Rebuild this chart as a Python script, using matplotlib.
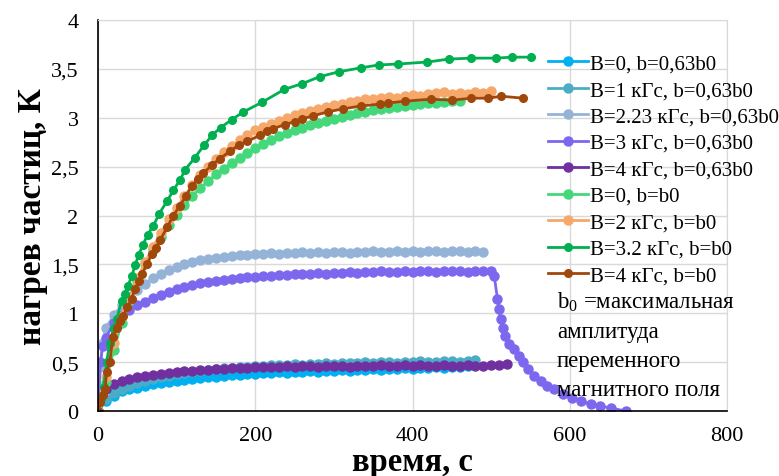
import numpy as np
import matplotlib
matplotlib.use('Agg')
import matplotlib.pyplot as plt

plt.rcParams['font.family'] = ['Liberation Serif', 'DejaVu Serif']
plt.rcParams['mathtext.fontset'] = 'custom'
plt.rcParams['mathtext.rm'] = 'Liberation Serif'

# b = 0,63 b0 series (time in s, heating in K)
t_b0_063 = np.arange(0, 471, 10)
v_b0_063 = [0, 0.10, 0.15, 0.20, 0.22, 0.24, 0.26, 0.28, 0.29, 0.30,
            0.31, 0.32, 0.33, 0.34, 0.35, 0.35, 0.36, 0.37, 0.37, 0.38,
            0.38, 0.39, 0.39, 0.40, 0.39, 0.40, 0.40, 0.41, 0.40, 0.41,
            0.41, 0.42, 0.41, 0.42, 0.42, 0.43, 0.42, 0.43, 0.43, 0.44,
            0.43, 0.44, 0.44, 0.45, 0.44, 0.45, 0.45, 0.46]

t_b1_063 = np.arange(0, 481, 10)
v_b1_063 = [0, 0.12, 0.18, 0.23, 0.26, 0.29, 0.31, 0.33, 0.35, 0.36,
            0.38, 0.39, 0.40, 0.41, 0.42, 0.43, 0.44, 0.44, 0.45, 0.45,
            0.46, 0.46, 0.47, 0.47, 0.47, 0.48, 0.47, 0.48, 0.48, 0.49,
            0.48, 0.49, 0.49, 0.49, 0.50, 0.49, 0.50, 0.50, 0.49, 0.50,
            0.50, 0.51, 0.50, 0.50, 0.51, 0.51, 0.50, 0.51, 0.52]

t_b223_063 = np.concatenate([[0, 3, 6], np.arange(10, 491, 10)])
v_b223_063 = [0, 0.45, 0.70, 0.85, 0.98, 1.08, 1.17, 1.24, 1.30, 1.36, 1.40,
              1.44, 1.47, 1.50, 1.52, 1.54, 1.56, 1.57, 1.58, 1.59, 1.60,
              1.60, 1.61, 1.61, 1.62, 1.61, 1.62, 1.62, 1.63, 1.62, 1.63,
              1.62, 1.63, 1.63, 1.62, 1.63, 1.63, 1.64, 1.63, 1.63, 1.64,
              1.63, 1.64, 1.63, 1.64, 1.64, 1.63, 1.64, 1.64, 1.63, 1.64,
              1.63]

t_b3_063 = np.concatenate([[0, 3, 6], np.arange(10, 501, 10),
                           [504, 508, 510, 512, 515, 518, 523, 529, 535, 541,
                            547, 554, 563, 571, 580, 592, 603, 614, 627, 639,
                            652, 671]])
v_b3_063 = [0, 0.50, 0.66, 0.75, 0.90, 0.98, 1.03, 1.08, 1.12, 1.16, 1.19,
            1.22, 1.25, 1.27, 1.29, 1.31, 1.32, 1.33, 1.34, 1.35, 1.36,
            1.37, 1.37, 1.38, 1.38, 1.39, 1.39, 1.40, 1.40, 1.40, 1.41,
            1.40, 1.41, 1.41, 1.42, 1.41, 1.42, 1.42, 1.43, 1.42, 1.42,
            1.43, 1.42, 1.43, 1.43, 1.42, 1.43, 1.43, 1.43, 1.42, 1.43,
            1.43, 1.43,
            1.38, 1.15, 1.04, 0.94, 0.85, 0.77, 0.69, 0.63, 0.56, 0.50,
            0.43, 0.36, 0.31, 0.26, 0.22, 0.17, 0.13, 0.10, 0.07, 0.05,
            0.03, 0.0]

t_b4_063 = np.arange(0, 521, 10)
v_b4_063 = [0, 0.22, 0.28, 0.31, 0.33, 0.35, 0.36, 0.37, 0.38, 0.39,
            0.40, 0.41, 0.41, 0.42, 0.42, 0.43, 0.43, 0.44, 0.44, 0.44,
            0.45, 0.45, 0.45, 0.45, 0.46, 0.45, 0.46, 0.46, 0.45, 0.46,
            0.46, 0.46, 0.45, 0.46, 0.46, 0.46, 0.47, 0.46, 0.46, 0.47,
            0.46, 0.47, 0.46, 0.46, 0.47, 0.46, 0.46, 0.47, 0.46, 0.46,
            0.47, 0.47, 0.48]

# b = b0 series
t_b0_1 = np.arange(0, 461, 10)
v_b0_1 = [0, 0.30, 0.62, 0.90, 1.13, 1.33, 1.50, 1.65, 1.78, 1.90,
          2.01, 2.11, 2.20, 2.28, 2.35, 2.42, 2.48, 2.54, 2.59, 2.64,
          2.69, 2.73, 2.77, 2.81, 2.84, 2.87, 2.90, 2.93, 2.95, 2.97,
          2.99, 3.01, 3.03, 3.05, 3.06, 3.08, 3.09, 3.10, 3.11, 3.12,
          3.13, 3.14, 3.15, 3.15, 3.16, 3.17, 3.17]

t_b2_1 = np.arange(0, 501, 10)
v_b2_1 = [0, 0.35, 0.70, 0.97, 1.17, 1.36, 1.52, 1.68, 1.82, 1.96,
          2.08, 2.20, 2.31, 2.41, 2.50, 2.58, 2.65, 2.71, 2.77, 2.82,
          2.87, 2.91, 2.94, 2.97, 3.00, 3.03, 3.05, 3.07, 3.09, 3.11,
          3.13, 3.14, 3.16, 3.17, 3.19, 3.19, 3.20, 3.21, 3.20, 3.22,
          3.23, 3.22, 3.24, 3.25, 3.26, 3.24, 3.25, 3.24, 3.26, 3.25,
          3.27]

t_b32_1 = [0, 4, 7, 11, 15, 20, 24, 30, 34, 38, 43, 47, 52, 57, 63, 70, 78,
           88, 96, 104, 111, 123, 135, 145, 156, 170, 185, 209, 237, 260,
           282, 306, 334, 357, 382, 419, 446, 475, 506, 527, 551]
v_b32_1 = [0, 0.12, 0.25, 0.50, 0.70, 0.85, 0.94, 1.13, 1.20, 1.28, 1.38,
           1.49, 1.60, 1.70, 1.80, 1.89, 2.02, 2.15, 2.26, 2.36, 2.47, 2.59,
           2.72, 2.82, 2.90, 2.98, 3.06, 3.16, 3.29, 3.35, 3.42, 3.47, 3.51,
           3.54, 3.55, 3.57, 3.60, 3.61, 3.61, 3.62, 3.62]

t_b4_1 = [0, 3, 6, 9, 11, 15, 19, 24, 28, 32, 37, 43, 47, 52, 56, 62, 69,
          74, 79, 88, 96, 104, 112, 119, 127, 134, 145, 155, 168, 179, 190,
          206, 215, 223, 238, 250, 260, 274, 292, 311, 334, 359, 369, 391,
          423, 450, 475, 496, 513, 541]
v_b4_1 = [0, 0.09, 0.16, 0.22, 0.40, 0.50, 0.76, 0.85, 0.92, 0.97, 1.06,
          1.15, 1.25, 1.33, 1.40, 1.50, 1.61, 1.67, 1.75, 1.88, 2.00, 2.10,
          2.20, 2.30, 2.37, 2.43, 2.52, 2.58, 2.66, 2.72, 2.76, 2.82, 2.86,
          2.89, 2.93, 2.96, 2.99, 3.02, 3.06, 3.09, 3.12, 3.14, 3.15, 3.17,
          3.19, 3.18, 3.20, 3.20, 3.22, 3.20]

series = [
    (t_b0_063, v_b0_063, 'B=0, b=0,63b0', '#00b0f0', 6.5),
    (t_b1_063, v_b1_063, 'B=1 кГс, b=0,63b0', '#4bacc6', 6.5),
    (t_b223_063, v_b223_063, 'B=2.23 кГс, b=0,63b0', '#95b3d7', 6.5),
    (t_b3_063, v_b3_063, 'B=3 кГс, b=0,63b0', '#7b68ee', 6.5),
    (t_b4_063, v_b4_063, 'B=4 кГс, b=0,63b0', '#7030a0', 6.5),
    (t_b0_1, v_b0_1, 'B=0, b=b0', '#45d87b', 6.5),
    (t_b2_1, v_b2_1, 'B=2 кГс, b=b0', '#f6a86b', 6.5),
    (t_b32_1, v_b32_1, 'B=3.2 кГс, b=b0', '#00b050', 5.5),
    (t_b4_1, v_b4_1, 'B=4 кГс, b=b0', '#a0480c', 5.5),
]

fig = plt.figure(figsize=(7.79, 4.77), dpi=100)
ax = fig.add_axes([98/779, 65/477, 629/779, 391/477])

for t, v, lab, col, ms in series:
    ax.plot(t, v, '-o', color=col, lw=2, ms=ms, label=lab)

ax.set_xlim(0, 800)
ax.set_ylim(0, 4)
ax.set_xticks([0, 200, 400, 600, 800])
ax.set_yticks(np.arange(0, 4.01, 0.5))
ax.set_yticklabels(['0', '0,5', '1', '1,5', '2', '2,5', '3', '3,5', '4'])
ax.tick_params(length=0, labelsize=16)
ax.tick_params(axis='y', pad=14)
ax.tick_params(axis='x', pad=11)
ax.grid(True, color='#d9d9d9', lw=1)
ax.set_axisbelow(True)
for s in ['top', 'right']:
    ax.spines[s].set_color('#d9d9d9')
for s in ['left', 'bottom']:
    ax.spines[s].set_color('black')
    ax.spines[s].set_linewidth(1.2)

ax.set_xlabel('время, с', fontsize=23.5, fontweight='bold')
ax.set_ylabel('нагрев частиц, К', fontsize=24, fontweight='bold')
ax.xaxis.set_label_coords(0.5, -0.09)
ax.yaxis.set_label_coords(-0.08, 0.5)

leg = ax.legend(loc='upper left', bbox_to_anchor=(0.7154, 0.913),
                frameon=False, fontsize=15,
                handlelength=1.9, handletextpad=0.1, labelspacing=0.33,
                borderpad=0, borderaxespad=0)

ax.text(557/779, 1 - 290/477,
        'b$_\\mathregular{0}$ =максимальная\nамплитуда\nпеременного\nмагнитного поля',
        fontsize=16.5, va='top', ha='left', linespacing=1.5,
        transform=fig.transFigure)

fig.savefig('out.png', dpi=100)
